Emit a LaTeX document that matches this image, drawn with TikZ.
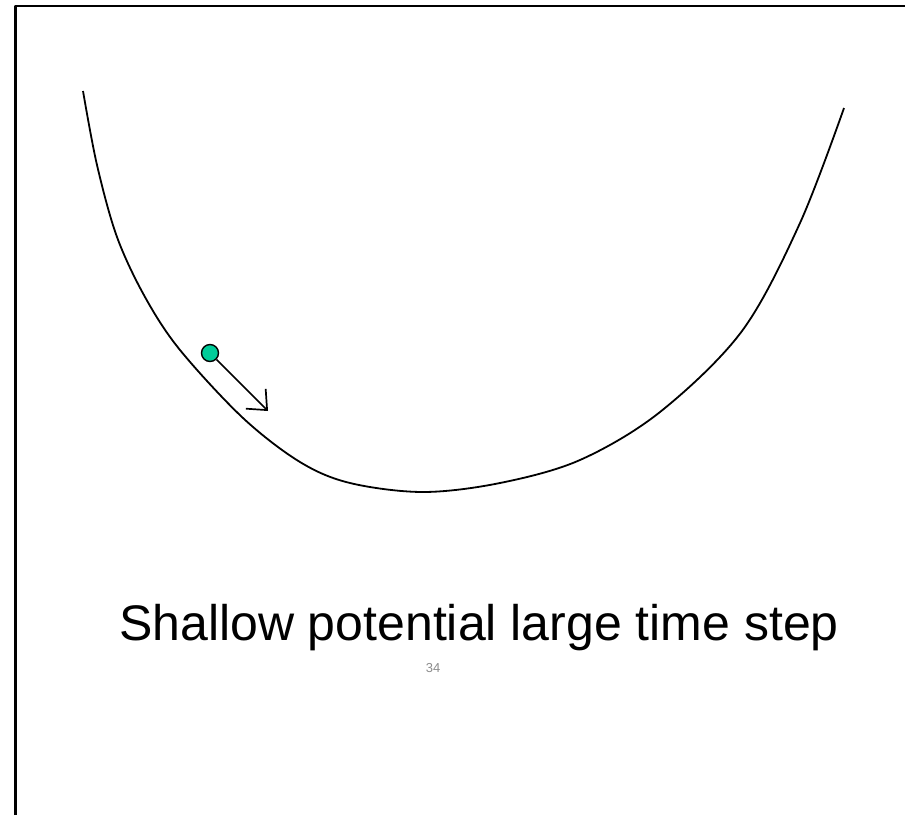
\documentclass[tikz,border=0pt]{standalone}
\usepackage{fontspec}
\setmainfont{Liberation Sans}
\usepackage{tikz}
\usetikzlibrary{arrows.meta}
\definecolor{ballgreen}{HTML}{00CC99}

\begin{document}
\begin{tikzpicture}[x=1pt, y=-1pt, line join=round]
\useasboundingbox (0,0) rectangle (905,815);
% slide frame
\draw[line width=2.8pt] (15.5,815) -- (15.5,6) -- (905,6);

% potential well
\draw[line width=1.8pt] plot[smooth, tension=0.55] coordinates {
(83,91) (97,165) (117,237) (145,297) (180,350) (243,418) (300,462)
(350,483) (423,492) (500,483) (580,460) (660,412) (742,331)
(800,223) (844,108)};

% particle and its step
\node[circle, draw, line width=1.4pt, fill=ballgreen, minimum size=17pt, inner sep=0pt] (ball) at (210,353) {};
\coordinate (tip) at (268,411);
\draw[line width=1.7pt, -{Straight Barb[length=16pt, width=28pt, line width=1.7pt]}] (ball) -- (tip);

\node[anchor=base, font=\fontsize{50}{58}\selectfont] (caption) at (479,640) {Shallow potential large time step};
\node[anchor=base, text=black!45, font=\fontsize{13}{15}\selectfont] (pagenum) at (433,672) {34};
\end{tikzpicture}
\end{document}
